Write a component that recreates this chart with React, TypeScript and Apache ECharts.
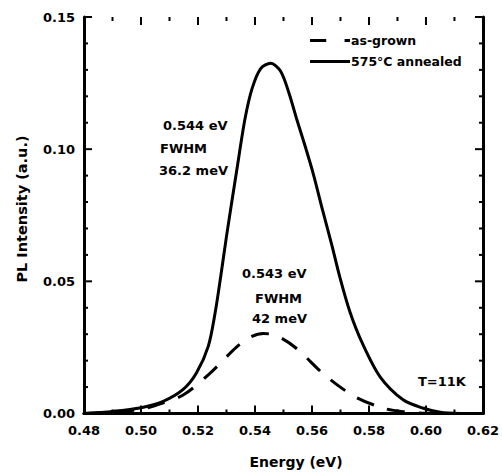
import React, { useEffect, useRef } from "react";
import * as echarts from "echarts";

// Energy (eV) and PL intensity (a.u.)
const annealedEnergy = [0.48, 0.49, 0.5, 0.5078, 0.5148, 0.5195, 0.5236, 0.526, 0.528, 0.53, 0.5336, 0.5365, 0.539, 0.542, 0.5455, 0.549, 0.552, 0.5546, 0.5575, 0.5605, 0.5637, 0.5669, 0.5698, 0.5733, 0.5775, 0.5839, 0.5921, 0.5991, 0.605, 0.612];
const annealedPL = [0.0, 0.0008, 0.0022, 0.0046, 0.0091, 0.0154, 0.0254, 0.038, 0.052, 0.067, 0.092, 0.1115, 0.123, 0.1305, 0.1325, 0.1295, 0.121, 0.1115, 0.1015, 0.0905, 0.077, 0.064, 0.0515, 0.0385, 0.027, 0.0139, 0.0051, 0.002, 0.0005, 0.0];

const grownEnergy = [0.48, 0.49, 0.4995, 0.5055, 0.5148, 0.5242, 0.5336, 0.5385, 0.543, 0.548, 0.5546, 0.5645, 0.575, 0.5851, 0.592, 0.6, 0.61];
const grownPL = [0.0, 0.0006, 0.0015, 0.0032, 0.007, 0.0152, 0.0252, 0.029, 0.0303, 0.0292, 0.0246, 0.0145, 0.0064, 0.002, 0.0007, 0.0001, 0.0];

const seriesNames = ["as-grown", "575°C annealed"];
const xTitle = "Energy (eV)";
const yTitle = "PL Intensity (a.u.)";
const xTicks = { min: 0.48, max: 0.62, step: 0.02 };
const yTicks = { min: 0, max: 0.15, step: 0.05 };
const xMajorTicks = [0.48, 0.5, 0.52, 0.54, 0.56, 0.58, 0.6, 0.62];
const xMinorTicks = [0.49, 0.51, 0.53, 0.55, 0.57, 0.59, 0.61];
const yMajorTicks = [0, 0.05, 0.1, 0.15];
const yMinorTicks = [0.01, 0.02, 0.03, 0.04, 0.06, 0.07, 0.08, 0.09, 0.11, 0.12, 0.13, 0.14];

const FONT = "DejaVu Sans";

export default function App() {
  const ref = useRef<HTMLDivElement>(null);
  useEffect(() => {
    if (!ref.current) return;
    const chart = echarts.init(ref.current, null, { renderer: "svg" });
    const pairs = (xs: number[], ys: number[]) => xs.map((x, i) => [x, ys[i]]);
    const axisCommon = () => ({
      type: "value",
      axisLine: { show: true, lineStyle: { color: "#000", width: 3 } },
      axisTick: { show: false },
      minorTick: { show: false },
      splitLine: { show: false },
    });
    const labelStyle = {
      color: "#000",
      fontFamily: FONT,
      fontWeight: "bold",
      fontSize: 13,
    };
    const texts: any[] = [
      { type: "text", left: 163, top: 119, style: { text: "0.544 eV", ...labelStyle, fill: "#000" } },
      { type: "text", left: 160, top: 142, style: { text: "FWHM", ...labelStyle, fill: "#000" } },
      { type: "text", left: 159, top: 164, style: { text: "36.2 meV", ...labelStyle, fill: "#000" } },
      { type: "text", left: 242, top: 267, style: { text: "0.543 eV", ...labelStyle, fill: "#000" } },
      { type: "text", left: 255, top: 292, style: { text: "FWHM", ...labelStyle, fill: "#000" } },
      { type: "text", left: 252, top: 312, style: { text: "42 meV", ...labelStyle, fill: "#000" } },
      { type: "text", left: 418, top: 375, style: { text: "T=11K", ...labelStyle, fill: "#000" } },
      {
        type: "text",
        x: 296,
        y: 462,
        style: { text: xTitle, ...labelStyle, fontSize: 14, fill: "#000", align: "center", verticalAlign: "middle" },
      },
      {
        type: "text",
        x: 22,
        y: 209,
        rotation: Math.PI / 2,
        style: { text: yTitle, ...labelStyle, fontSize: 14.5, fill: "#000", align: "center", verticalAlign: "middle" },
      },
    ];
    chart.setOption({
      animation: false,
      backgroundColor: "#fff",
      grid: { left: 84, right: 19, top: 17, bottom: 61.5 },
      xAxis: [
        {
          ...axisCommon(),
          position: "bottom",
          min: xTicks.min,
          max: xTicks.max,
          interval: xTicks.step,
          axisLabel: { ...labelStyle, margin: 10, formatter: (v: number) => v.toFixed(2) },
        },
        {
          ...axisCommon(),
          position: "top",
          min: xTicks.min,
          max: xTicks.max,
          interval: xTicks.step,
          axisLabel: { show: false },
        },
      ],
      yAxis: [
        {
          ...axisCommon(),
          position: "left",
          min: yTicks.min,
          max: yTicks.max,
          interval: yTicks.step,
          axisLabel: { ...labelStyle, margin: 9, formatter: (v: number) => v.toFixed(2) },
        },
        {
          ...axisCommon(),
          position: "right",
          min: yTicks.min,
          max: yTicks.max,
          interval: yTicks.step,
          axisLabel: { show: false },
        },
      ],
      legend: {
        orient: "vertical",
        left: 305,
        top: 29,
        itemWidth: 40,
        itemHeight: 14,
        itemGap: 8,
        textStyle: { ...labelStyle, fontSize: 12.5, padding: [0, 0, 0, -4] },
        data: [
          { name: seriesNames[0], icon: "path://M0,5.5h15v3h-15z M32,5.5h5v3h-5z" },
          { name: seriesNames[1], icon: "path://M0,5.5h40v3h-40z" },
        ],
      },
      series: [
        {
          name: seriesNames[0],
          type: "line",
          data: pairs(grownEnergy, grownPL),
          smooth: 0.3,
          symbol: "none",
          lineStyle: { color: "#000", width: 3, type: [18, 14] },
          itemStyle: { color: "#000" },
        },
        {
          name: seriesNames[1],
          type: "line",
          data: pairs(annealedEnergy, annealedPL),
          smooth: 0.3,
          symbol: "none",
          lineStyle: { color: "#000", width: 3 },
          itemStyle: { color: "#000" },
        },
      ],
      graphic: texts,
    });

    // Inward ticks on all four sides, placed through the chart's own grid coordinate system
    const toPx = (x: number, y: number): number[] =>
      chart.convertToPixel({ gridIndex: 0 }, [x, y]) as unknown as number[];
    const bl = toPx(xTicks.min, yTicks.min);
    const tr = toPx(xTicks.max, yTicks.max);
    const left = bl[0];
    const bottom = bl[1];
    const right = tr[0];
    const top = tr[1];
    const tickStyle = { stroke: "#000", lineWidth: 2 };
    const ticks: any[] = [];
    const addX = (v: number, len: number) => {
      const x = toPx(v, yTicks.min)[0];
      ticks.push({ type: "line", silent: true, z: 100, shape: { x1: x, y1: bottom, x2: x, y2: bottom - len }, style: tickStyle });
      ticks.push({ type: "line", silent: true, z: 100, shape: { x1: x, y1: top, x2: x, y2: top + len }, style: tickStyle });
    };
    const addY = (v: number, len: number) => {
      const y = toPx(xTicks.min, v)[1];
      ticks.push({ type: "line", silent: true, z: 100, shape: { x1: left, y1: y, x2: left + len, y2: y }, style: tickStyle });
      ticks.push({ type: "line", silent: true, z: 100, shape: { x1: right, y1: y, x2: right - len, y2: y }, style: tickStyle });
    };
    xMajorTicks.forEach((v) => addX(v, 8));
    xMinorTicks.forEach((v) => addX(v, 4));
    yMajorTicks.forEach((v) => addY(v, 8));
    yMinorTicks.forEach((v) => addY(v, 4));
    const ok = ticks.every(
      (t) => isFinite(t.shape.x1) && isFinite(t.shape.y1) && isFinite(t.shape.x2) && isFinite(t.shape.y2)
    );
    if (ok) {
      chart.setOption({ graphic: [...texts, ...ticks] });
    }
    return () => chart.dispose();
  }, []);
  return (
    <div
      ref={ref}
      style={{ position: "fixed", left: 0, top: 0, width: 502, height: 475, background: "#fff" }}
    />
  );
}
